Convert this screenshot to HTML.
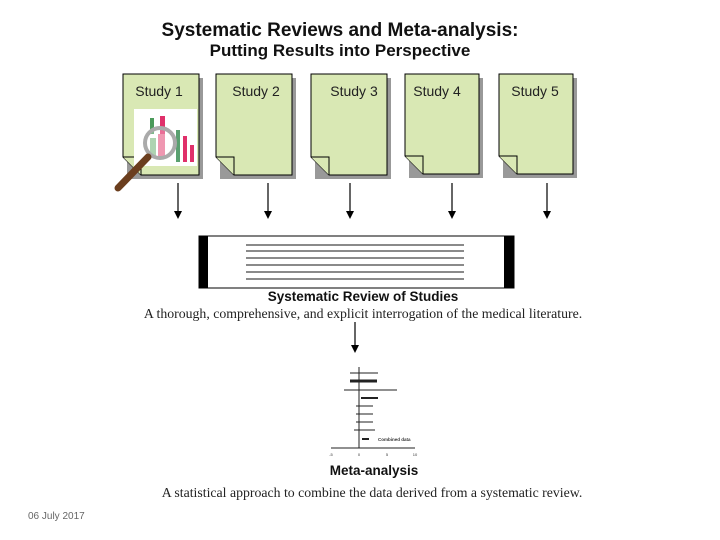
<!DOCTYPE html>
<html><head><meta charset="utf-8"><style>
body{margin:0;background:#fff;}
svg{display:block}
</style></head><body>
<svg width="720" height="540" xmlns="http://www.w3.org/2000/svg" font-family="Liberation Sans, Arial, sans-serif">
<text x="340" y="36" text-anchor="middle" font-size="19" font-weight="bold" fill="#111">Systematic Reviews and Meta-analysis:</text>
<text x="340" y="56" text-anchor="middle" font-size="17" font-weight="bold" fill="#111">Putting Results into Perspective</text>
<g id="docs">
<g transform="translate(123,74)">
<rect x="4" y="4" width="76" height="101" fill="#999"/>
<path d="M0,0 H76 V101 H18 L0,83 Z" fill="#d9e8b4" stroke="#000"/>
<path d="M0,83 H18 V101" fill="#d9e8b4" stroke="#000"/>
<text x="36" y="22" text-anchor="middle" font-size="14" fill="#222">Study 1</text>
</g>
<g transform="translate(216,74)">
<rect x="4" y="4" width="76" height="101" fill="#999"/>
<path d="M0,0 H76 V101 H18 L0,83 Z" fill="#d9e8b4" stroke="#000"/>
<path d="M0,83 H18 V101" fill="#d9e8b4" stroke="#000"/>
<text x="40" y="22" text-anchor="middle" font-size="14" fill="#222">Study 2</text>
</g>
<g transform="translate(311,74)">
<rect x="4" y="4" width="76" height="101" fill="#999"/>
<path d="M0,0 H76 V101 H18 L0,83 Z" fill="#d9e8b4" stroke="#000"/>
<path d="M0,83 H18 V101" fill="#d9e8b4" stroke="#000"/>
<text x="43" y="22" text-anchor="middle" font-size="14" fill="#222">Study 3</text>
</g>
<g transform="translate(405,74)">
<rect x="4" y="4" width="74" height="100" fill="#999"/>
<path d="M0,0 H74 V100 H18 L0,82 Z" fill="#d9e8b4" stroke="#000"/>
<path d="M0,82 H18 V100" fill="#d9e8b4" stroke="#000"/>
<text x="32" y="22" text-anchor="middle" font-size="14" fill="#222">Study 4</text>
</g>
<g transform="translate(499,74)">
<rect x="4" y="4" width="74" height="100" fill="#999"/>
<path d="M0,0 H74 V100 H18 L0,82 Z" fill="#d9e8b4" stroke="#000"/>
<path d="M0,82 H18 V100" fill="#d9e8b4" stroke="#000"/>
<text x="36" y="22" text-anchor="middle" font-size="14" fill="#222">Study 5</text>
</g>
</g>
<rect x="134" y="109" width="63" height="57" fill="#fff"/>
<rect x="150" y="118" width="4" height="16" fill="#4a9a5a"/>
<rect x="160" y="116" width="5" height="20" fill="#e0306a"/>
<rect x="176" y="130" width="4" height="32" fill="#5aa070"/>
<rect x="183" y="136" width="4" height="26" fill="#e0306a"/>
<rect x="190" y="145" width="4" height="17" fill="#e0306a"/>
<rect x="150" y="138" width="6" height="18" fill="#8cc090"/>
<rect x="158" y="134" width="7" height="22" fill="#e86a90"/>
<circle cx="160" cy="143" r="15" fill="rgba(255,255,255,0.3)" stroke="#aaa" stroke-width="4"/>
<line x1="148" y1="157" x2="118" y2="188" stroke="#6b3e1e" stroke-width="7" stroke-linecap="round"/>
<g stroke="#000" stroke-width="1.2">
<line x1="178" y1="183" x2="178" y2="212"/>
<line x1="268" y1="183" x2="268" y2="212"/>
<line x1="350" y1="183" x2="350" y2="212"/>
<line x1="452" y1="183" x2="452" y2="212"/>
<line x1="547" y1="183" x2="547" y2="212"/>
<line x1="355" y1="322" x2="355" y2="346"/>
</g>
<g fill="#000">
<path d="M174,211 H182 L178,219 Z"/>
<path d="M264,211 H272 L268,219 Z"/>
<path d="M346,211 H354 L350,219 Z"/>
<path d="M448,211 H456 L452,219 Z"/>
<path d="M543,211 H551 L547,219 Z"/>
<path d="M351,345 H359 L355,353 Z"/>
</g>
<rect x="199" y="236" width="315" height="52" fill="#fff" stroke="#000"/>
<rect x="199" y="236" width="9" height="52" fill="#000"/>
<rect x="504" y="236" width="10" height="52" fill="#000"/>
<g stroke="#444" stroke-width="1.3">
<line x1="246" y1="245" x2="464" y2="245"/>
<line x1="246" y1="251" x2="464" y2="251"/>
<line x1="246" y1="258" x2="464" y2="258"/>
<line x1="246" y1="265" x2="464" y2="265"/>
<line x1="246" y1="272" x2="464" y2="272"/>
<line x1="246" y1="279" x2="464" y2="279"/>
</g>
<text x="363" y="301" text-anchor="middle" font-size="13.5" font-weight="bold" fill="#111">Systematic Review of Studies</text>
<text x="363" y="318" text-anchor="middle" font-size="13.8" font-family="Liberation Serif, serif" fill="#222">A thorough, comprehensive, and explicit interrogation of the medical literature.</text>
<g stroke="#222" stroke-width="1">
<line x1="359" y1="367" x2="359" y2="448"/>
<line x1="331" y1="448" x2="415" y2="448"/>
<line x1="350" y1="373" x2="378" y2="373"/>
<line x1="350" y1="381" x2="377" y2="381" stroke-width="3"/>
<line x1="344" y1="390" x2="397" y2="390"/>
<line x1="361" y1="398" x2="378" y2="398" stroke-width="2"/>
<line x1="356" y1="406" x2="373" y2="406"/>
<line x1="356" y1="414" x2="373" y2="414"/>
<line x1="356" y1="422" x2="373" y2="422"/>
<line x1="354" y1="430" x2="375" y2="430"/>
<line x1="362" y1="439" x2="369" y2="439" stroke-width="2"/>
</g>
<text x="378" y="441" font-size="4.5" font-weight="bold" fill="#333">Combined data</text>
<g font-size="4" fill="#333" text-anchor="middle"><text x="331" y="456">-5</text><text x="359" y="456">0</text><text x="387" y="456">5</text><text x="415" y="456">10</text></g>
<text x="374" y="475" text-anchor="middle" font-size="13.5" font-weight="bold" fill="#111">Meta-analysis</text>
<text x="372" y="497" text-anchor="middle" font-size="13.8" font-family="Liberation Serif, serif" fill="#222">A statistical approach to combine the data derived from a systematic review.</text>
<text x="28" y="519" font-size="10" fill="#666">06 July 2017</text>
</svg>
</body></html>
